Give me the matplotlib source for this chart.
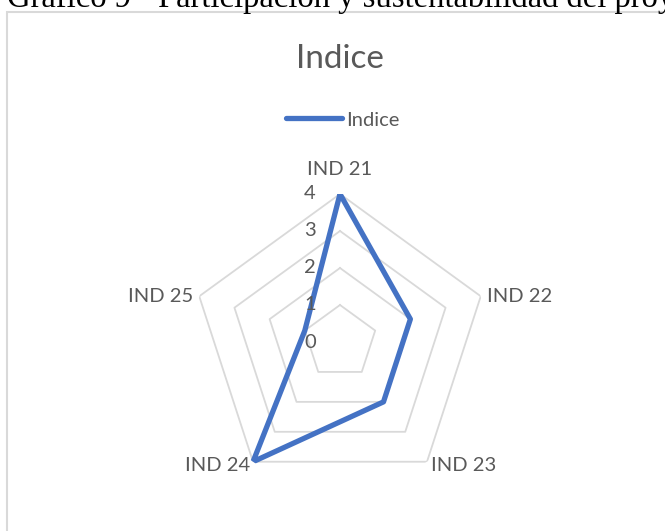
import numpy as np
import matplotlib.pyplot as plt
from matplotlib.patches import Rectangle

# data
categories = ['IND 21', 'IND 22', 'IND 23', 'IND 24', 'IND 25']
indice = [4, 2, 2, 4, 1]
levels = [1, 2, 3, 4]
tick_labels = ['0', '1', '2', '3', '4']

W, H = 665, 531
fig = plt.figure(figsize=(W / 100, H / 100), dpi=100)
fig.patch.set_facecolor('white')

gray = '#595959'
grid_gray = '#d9d9d9'
blue = '#4472C4'

# chart area border (cut off at right and bottom)
fig.patches.append(Rectangle((7 / W, -0.1), 1.2, (H - 12) / H + 0.1,
                             transform=fig.transFigure, fill=False,
                             edgecolor=grid_gray, linewidth=1.5))

# document caption, mostly cropped at the top like in the source
fig.text(7 / W, (H - 7.5) / H, 'Gráfico 9 - Participación y sustentabilidad del proyecto',
         family='Liberation Serif', fontsize=23.5, color='black', va='baseline', ha='left')

# radar axes: centre (340, 342) px, radius 148 px
cx, cy, R = 340, 342, 148
ax = fig.add_axes([(cx - R) / W, (H - cy - R) / H, 2 * R / W, 2 * R / H], projection='polar')
ax.set_theta_offset(np.pi / 2)
ax.set_theta_direction(-1)
ax.set_ylim(0, 4)
ax.grid(False)
ax.set_xticks([])
ax.set_yticks([])
ax.spines['polar'].set_visible(False)
ax.patch.set_alpha(0)

n = len(categories)
theta = np.linspace(0, 2 * np.pi, n, endpoint=False)
theta_c = np.append(theta, theta[0])

for lv in levels:
    ax.plot(theta_c, [lv] * (n + 1), color=grid_gray, lw=1.3, zorder=1)

vals = np.append(indice, indice[0])
ax.plot(theta_c, vals, color=blue, lw=3.8, solid_joinstyle='round',
        solid_capstyle='round', label='Indice', zorder=3)

# radial tick labels
for i, lab in enumerate(tick_labels):
    ax.annotate(lab, xy=(0, i), xytext=(-24, 0), textcoords='offset pixels',
                ha='right', va='center', family='Lato', fontsize=14.5, color=gray,
                annotation_clip=False)

# category labels
offsets = [(0, 16, 'center', 'bottom'), (6, 0, 'left', 'center'),
           (4, -4, 'left', 'center'), (-3, -4, 'right', 'center'),
           (-6, 0, 'right', 'center')]
for t, lab, (dx, dy, ha, va) in zip(theta, categories, offsets):
    ax.annotate(lab, xy=(t, 4), xytext=(dx, dy), textcoords='offset pixels',
                ha=ha, va=va, family='Lato', fontsize=14.5, color=gray,
                annotation_clip=False)

# chart title
fig.text(cx / W, (H - 68) / H, 'Indice', family='Lato', fontsize=24,
         color=gray, ha='center', va='baseline')

leg = ax.legend(loc='center', bbox_to_anchor=(343 / W, (H - 120) / H),
                bbox_transform=fig.transFigure, frameon=False,
                prop={'family': 'Lato', 'size': 14.5}, handlelength=2.8,
                handletextpad=0.2, borderpad=0)
for t in leg.get_texts():
    t.set_color(gray)

fig.savefig('out.png', dpi=100)
